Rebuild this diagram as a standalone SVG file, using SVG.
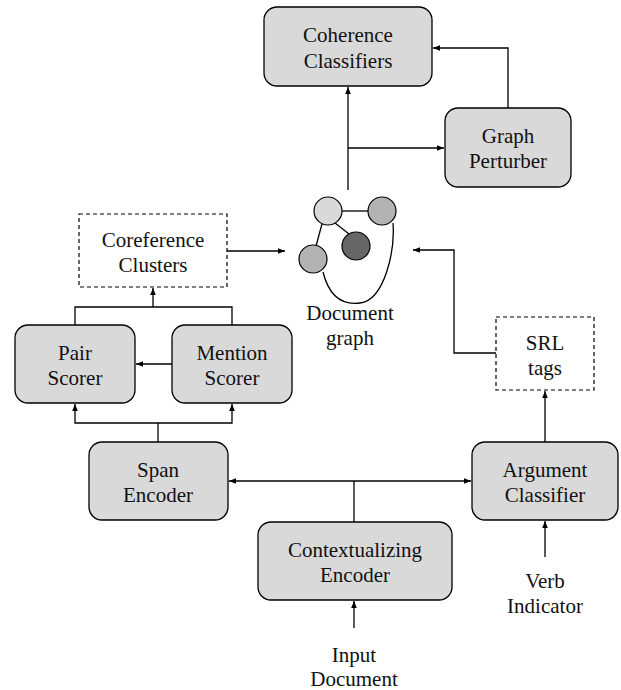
<svg xmlns="http://www.w3.org/2000/svg" width="621" height="690" viewBox="0 0 621 690">
<style>
.box{fill:#d9d9d9;stroke:#000;stroke-width:1.3}
.dash{fill:#fff;stroke:#000;stroke-width:1.2;stroke-dasharray:4 3}
text{font-family:'Liberation Serif','Times New Roman',Tinos,'Noto Serif','DejaVu Serif',FreeSerif,'Nimbus Roman','Nimbus Roman No9 L',Times,serif;font-size:21px;text-anchor:middle;fill:#111}
.c{fill:none;stroke:#000;stroke-width:1.3}
.a{fill:none;stroke:#000;stroke-width:1.3;marker-end:url(#ah)}
.n{stroke:#000;stroke-width:1.2}
</style>
<defs>
<marker id="ah" viewBox="0 0 10 10" refX="10" refY="5" markerWidth="7" markerHeight="7" markerUnits="userSpaceOnUse" orient="auto">
<path d="M0,1 L10,5 L0,9 Z" fill="#000"/>
</marker>
</defs>
<rect width="621" height="690" fill="#fff"/>
<g id="connectors">
<path class="a" d="M348,190 L348,87"/>
<path class="a" d="M348,148 L444,148"/>
<path class="a" d="M508,108 L508,48 L433,48"/>
<path class="a" d="M227,251 L285,251"/>
<path class="a" d="M496,353 L454,353 L454,250 L413,250"/>
<path class="a" d="M545,442 L545,391"/>
<path class="a" d="M545,557 L545,521"/>
<path class="a" d="M172,364 L136,364"/>
<path class="c" d="M75,325 L75,307 L232,307 L232,325"/>
<path class="a" d="M153,307 L153,288"/>
<path class="c" d="M158,442 L158,423"/>
<path class="a" d="M158,423 L75,423 L75,404"/>
<path class="a" d="M158,423 L232,423 L232,404"/>
<path class="a" d="M354,481 L229,481"/>
<path class="a" d="M354,481 L471,481"/>
<path class="c" d="M354,481 L354,522"/>
<path class="a" d="M354,628 L354,601"/>
</g>
<g id="coherence">
<rect class="box" x="264" y="7" width="168" height="79" rx="13"/>
<text x="348" y="42">Coherence</text>
<text x="348" y="68">Classifiers</text>
</g>
<g id="perturber">
<rect class="box" x="445" y="108" width="126" height="79" rx="13"/>
<text x="508" y="143">Graph</text>
<text x="508" y="168">Perturber</text>
</g>
<g id="coref">
<rect class="dash" x="79" y="214" width="148" height="73"/>
<text x="153" y="247">Coreference</text>
<text x="153" y="272">Clusters</text>
</g>
<g id="docgraph">
<path class="c" d="M323,272 C330,300 345,305 360,303 C385,300 395,250 393,223"/>
<line class="c" x1="342" y1="211" x2="368" y2="211"/>
<line class="c" x1="335" y1="223" x2="349" y2="234"/>
<line class="c" x1="322" y1="224" x2="316" y2="246"/>
<circle class="n" cx="328" cy="211" r="14" fill="#d9d9d9"/>
<circle class="n" cx="382" cy="211" r="14" fill="#b3b3b3"/>
<circle class="n" cx="356" cy="246" r="14" fill="#666"/>
<circle class="n" cx="313" cy="259" r="14" fill="#b3b3b3"/>
<text x="350" y="320">Document</text>
<text x="350" y="345">graph</text>
</g>
<g id="srl">
<rect class="dash" x="496" y="317" width="98" height="73"/>
<text x="545" y="350">SRL</text>
<text x="545" y="375">tags</text>
</g>
<g id="pair">
<rect class="box" x="15" y="325" width="120" height="78" rx="13"/>
<text x="75" y="360">Pair</text>
<text x="75" y="385">Scorer</text>
</g>
<g id="mention">
<rect class="box" x="172" y="325" width="120" height="78" rx="13"/>
<text x="232" y="360">Mention</text>
<text x="232" y="385">Scorer</text>
</g>
<g id="span">
<rect class="box" x="89" y="442" width="139" height="78" rx="13"/>
<text x="158" y="477">Span</text>
<text x="158" y="502">Encoder</text>
</g>
<g id="argument">
<rect class="box" x="472" y="442" width="146" height="78" rx="13"/>
<text x="545" y="477">Argument</text>
<text x="545" y="502">Classifier</text>
</g>
<g id="contextual">
<rect class="box" x="258" y="522" width="194" height="78" rx="13"/>
<text x="355" y="557">Contextualizing</text>
<text x="355" y="582">Encoder</text>
</g>
<g id="verb">
<text x="545" y="588">Verb</text>
<text x="545" y="613">Indicator</text>
</g>
<g id="input">
<text x="354" y="662">Input</text>
<text x="354" y="686">Document</text>
</g>
</svg>
